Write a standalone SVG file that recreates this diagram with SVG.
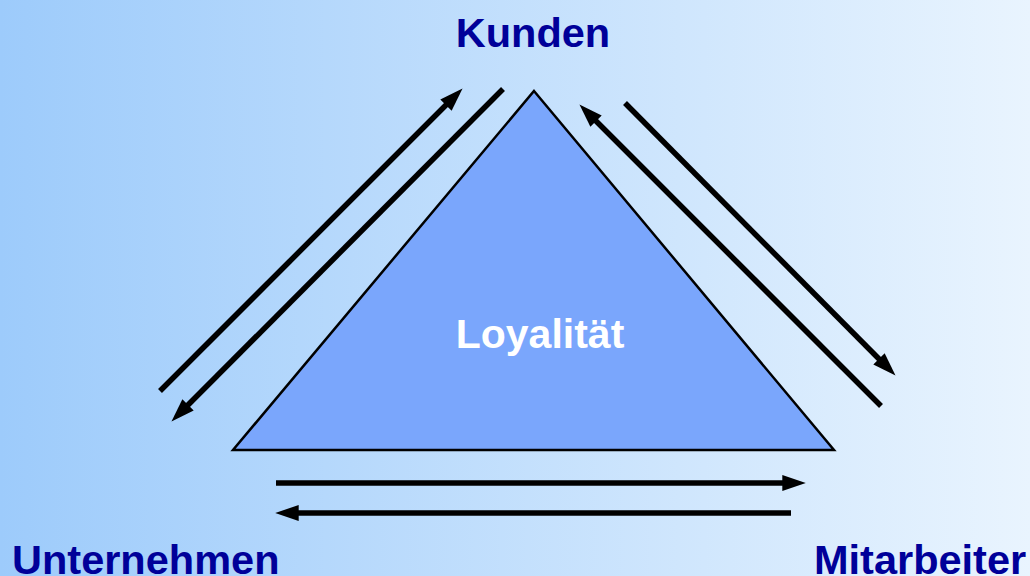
<svg xmlns="http://www.w3.org/2000/svg" width="1030" height="576" viewBox="0 0 1030 576">
  <defs>
    <linearGradient id="bg" x1="0" y1="0" x2="1" y2="0">
      <stop offset="0" stop-color="#9dcbfb"/>
      <stop offset="1" stop-color="#e9f4fe"/>
    </linearGradient>
    <marker id="head" markerUnits="userSpaceOnUse" markerWidth="24" markerHeight="16" viewBox="0 0 22 15" refX="10" refY="7.5" orient="auto">
      <path d="M0,0 L22,7.5 L0,15 Z" fill="#000"/>
    </marker>
    <style>
      .label { font-family: "Liberation Sans", Arial, sans-serif; font-weight: bold; font-size: 41.5px; fill: #000099; }
      .center { font-family: "Liberation Sans", Arial, sans-serif; font-weight: bold; font-size: 41px; fill: #ffffff; }
      .arrow { stroke: #000; stroke-width: 5.5; fill: none; marker-end: url(#head); }
    </style>
  </defs>

  <rect x="0" y="0" width="1030" height="576" fill="url(#bg)"/>

  <g id="loyalitaet">
    <polygon points="534,91 834,450 233,450" fill="#7aa6fc" stroke="#000" stroke-width="2.5" stroke-linejoin="miter"/>
    <text class="center" x="540" y="348" text-anchor="middle">Loyalität</text>
  </g>

  <g id="kunden">
    <text class="label" x="533" y="47" text-anchor="middle">Kunden</text>
  </g>

  <g id="unternehmen">
    <text class="label" x="12" y="574">Unternehmen</text>
  </g>

  <g id="mitarbeiter">
    <text class="label" x="814" y="574">Mitarbeiter</text>
  </g>

  <g id="connectors">
    <line class="arrow" x1="160" y1="391" x2="453.5" y2="97.5"/>
    <line class="arrow" x1="503" y1="89" x2="180.5" y2="412.5"/>
    <line class="arrow" x1="881" y1="406" x2="588.5" y2="113.5"/>
    <line class="arrow" x1="625" y1="103" x2="886.5" y2="366.5"/>
    <line class="arrow" x1="276" y1="483" x2="793" y2="483"/>
    <line class="arrow" x1="791" y1="513" x2="288" y2="513"/>
  </g>
</svg>
